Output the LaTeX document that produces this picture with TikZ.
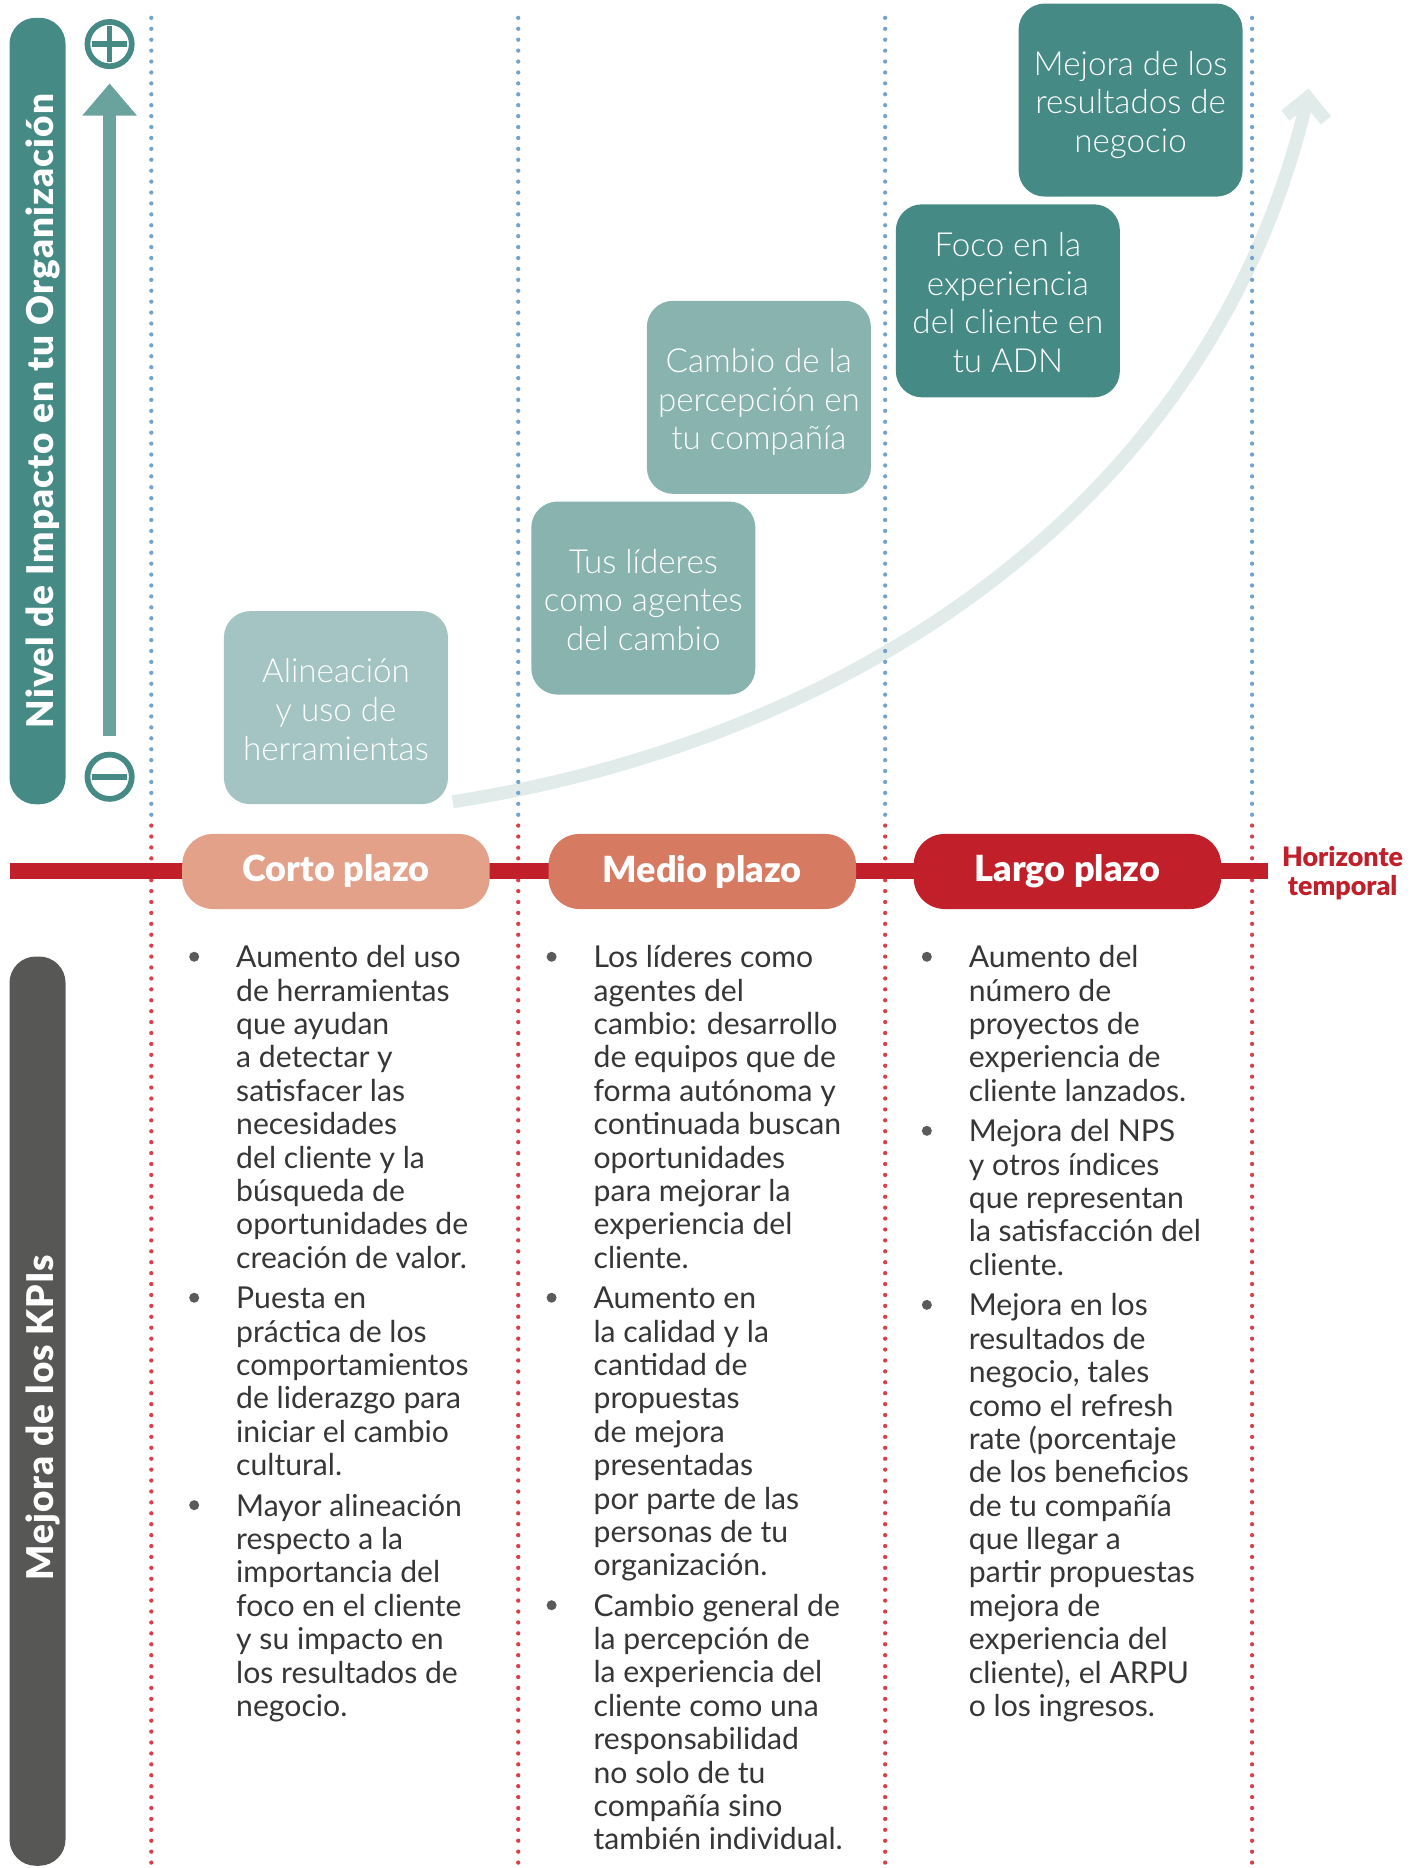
\documentclass[tikz,border=0pt]{standalone}
\usepackage{fontspec}
\setmainfont{Lato}
\newfontfamily\lightfont{Lato Light}
\newfontfamily\heavyfont{Lato Black}
\usetikzlibrary{calc,arrows.meta}

\definecolor{tealDark}{HTML}{468A85}
\definecolor{tealArrow}{HTML}{6AA39E}
\definecolor{tealPale}{HTML}{A3C4C2}
\definecolor{tealMid}{HTML}{88B3AF}
\definecolor{curveMist}{HTML}{E1ECEA}
\definecolor{lineRed}{HTML}{C1202A}
\definecolor{shortTerm}{HTML}{E3A18A}
\definecolor{midTerm}{HTML}{D77A62}
\definecolor{dotBlue}{HTML}{74A3CC}
\definecolor{dotRed}{HTML}{D8404C}
\definecolor{kpiGrey}{HTML}{575756}
\definecolor{bodyText}{HTML}{363636}
\definecolor{bulletGrey}{HTML}{5A5A5A}

% left-aligned block whose baseline is the first line's baseline
\newcommand{\kpiLines}[1]{\begin{tabular}[t]{@{}l@{}}#1\end{tabular}}
% centred block with fixed top and bottom extent, so every box centres alike
\newcommand{\stageLines}[1]{\rule{0pt}{1.05em}#1\rule[-0.22em]{0pt}{0pt}}

\begin{document}
\begin{tikzpicture}[
  x=0.025cm, y=-0.025cm,
  stagebox/.style={rectangle, rounded corners=0.55cm, minimum width=4.7cm,
    minimum height=4.05cm, inner sep=0pt, align=center, text=white,
    font=\lightfont\fontsize{19.8}{23.1}\selectfont},
  termpill/.style={rectangle, rounded corners=0.65cm, minimum width=6.45cm,
    minimum height=1.575cm, inner sep=0pt, text=white,
    font=\heavyfont\fontsize{21.5}{24}\selectfont},
  sidebar/.style={rectangle, rotate=90, rounded corners=0.55cm,
    minimum height=1.175cm, inner sep=0pt},
  sidetitle/.style={rotate=90, anchor=base, inner sep=0pt, text=white,
    font=\heavyfont\addfontfeature{LetterSpace=3}\fontsize{22}{26}\selectfont},
  dotline/.style={line width=0.09cm, line cap=round,
    dash pattern=on 0pt off 0.229cm},
  growth/.style={draw=curveMist, line width=0.275cm},
  kpi/.style={anchor=base west, inner sep=0pt, text=bodyText,
    font=\fontsize{18}{19.93}\selectfont},
  bulletdot/.style={circle, fill=bulletGrey, inner sep=0pt, minimum size=0.21cm},
  signring/.style={circle, draw=tealDark, line width=0.12cm,
    minimum size=0.93cm, inner sep=0pt},
  signbar/.style={draw=tealDark, line width=0.115cm}
]
\useasboundingbox (0,0) rectangle (1194,1568);

% ---- growth curve with open chevron head
\coordinate (growthStart) at (380,673);
\coordinate (growthTip) at (1097.5,82);
\draw[growth] (growthStart) .. controls (720,620) and (1020,420) .. (growthTip);
\draw[growth, line join=miter]
  ($(growthTip)+(-18.5,15)$) -- (growthTip) -- ($(growthTip)+(15.5,19)$);

% ---- dotted column separators
\foreach \gx in {127,435,743,1051} {
  \draw[dotline, dotBlue] (\gx,15) -- (\gx,684);
  \draw[dotline, dotRed] (\gx,693) -- (\gx,1568);
}

% ---- time axis
\coordinate (axisWest) at (8,731);
\coordinate (axisEast) at (1064,731);
\draw[lineRed, line width=0.32cm] (axisWest) -- (axisEast);

\node[termpill, fill=shortTerm] (shortPill) at (282,731.5) {Corto plazo};
\node[termpill, fill=midTerm] (midPill) at (589.5,731.5) {Medio plazo};
\node[termpill, fill=lineRed] (longPill) at (896,731.5) {Largo plazo};

\node[anchor=base, inner sep=0pt, text=lineRed,
  font=\heavyfont\fontsize{16}{17.5}\selectfont] (horizonLabel) at (1127,727)
  {\begin{tabular}[t]{@{}c@{}}Horizonte\\temporal\end{tabular}};

% ---- impact axis
\node[sidebar, fill=tealDark, minimum width=16.5cm] (impactBar) at (31.5,345) {};
\node[sidetitle] (impactTitle) at (45,345) {Nivel de Impacto en tu Organización};

\coordinate (axisLow) at (92,618);
\coordinate (axisHigh) at (92,70);
\draw[tealArrow, line width=0.285cm, -{Triangle[width=1.1cm, length=0.675cm]}]
  (axisLow) -- (axisHigh);

\node[signring] (plusSign) at (92,37) {};
\draw[signbar] ($(plusSign.center)+(-15,0)$) -- ($(plusSign.center)+(15,0)$);
\draw[signbar] ($(plusSign.center)+(0,-15)$) -- ($(plusSign.center)+(0,15)$);
\node[signring] (minusSign) at (92,652) {};
\draw[signbar] ($(minusSign.center)+(-15,0)$) -- ($(minusSign.center)+(15,0)$);

% ---- stages
\node[stagebox, fill=tealPale] (stageTools) at (282,594)
  {\stageLines{Alineación\\y uso de\\herramientas}};
\node[stagebox, fill=tealMid] (stageLeaders) at (540,502)
  {\stageLines{Tus líderes\\como agentes\\del cambio}};
\node[stagebox, fill=tealMid] (stagePerception) at (637,333.5)
  {\stageLines{Cambio de la\\percepción en\\tu compañía}};
\node[stagebox, fill=tealDark] (stageFocus) at (846,252.5)
  {\stageLines{Foco en la\\experiencia\\del cliente en\\tu ADN}};
\node[stagebox, fill=tealDark] (stageResults) at (949,84)
  {\stageLines{Mejora de los\\resultados de\\negocio}};

% ---- KPI axis
\node[sidebar, fill=kpiGrey, minimum width=19.075cm] (kpiBar) at (31.5,1184.5) {};
\node[sidetitle] (kpiTitle) at (45,1190) {Mejora de los KPIs};

% ---- KPI lists: short term
\node[kpi] (shortA) at (198,812.3) {\kpiLines{Aumento del uso\\de herramientas\\que ayudan\\a detectar y\\satisfacer las\\necesidades\\del cliente y la\\búsqueda de\\oportunidades de\\creación de valor.}};
\node[kpi] (shortB) at (198,1098.5) {\kpiLines{Puesta en\\práctica de los\\comportamientos\\de liderazgo para\\iniciar el cambio\\cultural.}};
\node[kpi] (shortC) at (198,1272.6) {\kpiLines{Mayor alineación\\respecto a la\\importancia del\\foco en el cliente\\y su impacto en\\los resultados de\\negocio.}};

% ---- KPI lists: medium term
\node[kpi] (midA) at (498,812.3) {\kpiLines{Los líderes como\\agentes del\\cambio: desarrollo\\de equipos que de\\forma autónoma y\\continuada buscan\\oportunidades\\para mejorar la\\experiencia del\\cliente.}};
\node[kpi] (midB) at (498,1098.5) {\kpiLines{Aumento en\\la calidad y la\\cantidad de\\propuestas\\de mejora\\presentadas\\por parte de las\\personas de tu\\organización.}};
\node[kpi] (midC) at (498,1356.6) {\kpiLines{Cambio general de\\la percepción de\\la experiencia del\\cliente como una\\responsabilidad\\no solo de tu\\compañía sino\\también individual.}};

% ---- KPI lists: long term
\node[kpi] (longA) at (813,812.3) {\kpiLines{Aumento del\\número de\\proyectos de\\experiencia de\\cliente lanzados.}};
\node[kpi] (longB) at (813,958.4) {\kpiLines{Mejora del NPS\\y otros índices\\que representan\\la satisfacción del\\cliente.}};
\node[kpi] (longC) at (813,1104.5) {\kpiLines{Mejora en los\\resultados de\\negocio, tales\\como el refresh\\rate (porcentaje\\de los beneficios\\de tu compañía\\que llegar a\\partir propuestas\\mejora de\\experiencia del\\cliente), el ARPU\\o los ingresos.}};

% ---- bullets beside each item
\foreach \item in {shortA,shortB,shortC,midA,midB,midC,longA,longB,longC}
  \node[bulletdot] (\item Dot) at ($(\item.base west)+(-35,-9.2)$) {};

\end{tikzpicture}
\end{document}
